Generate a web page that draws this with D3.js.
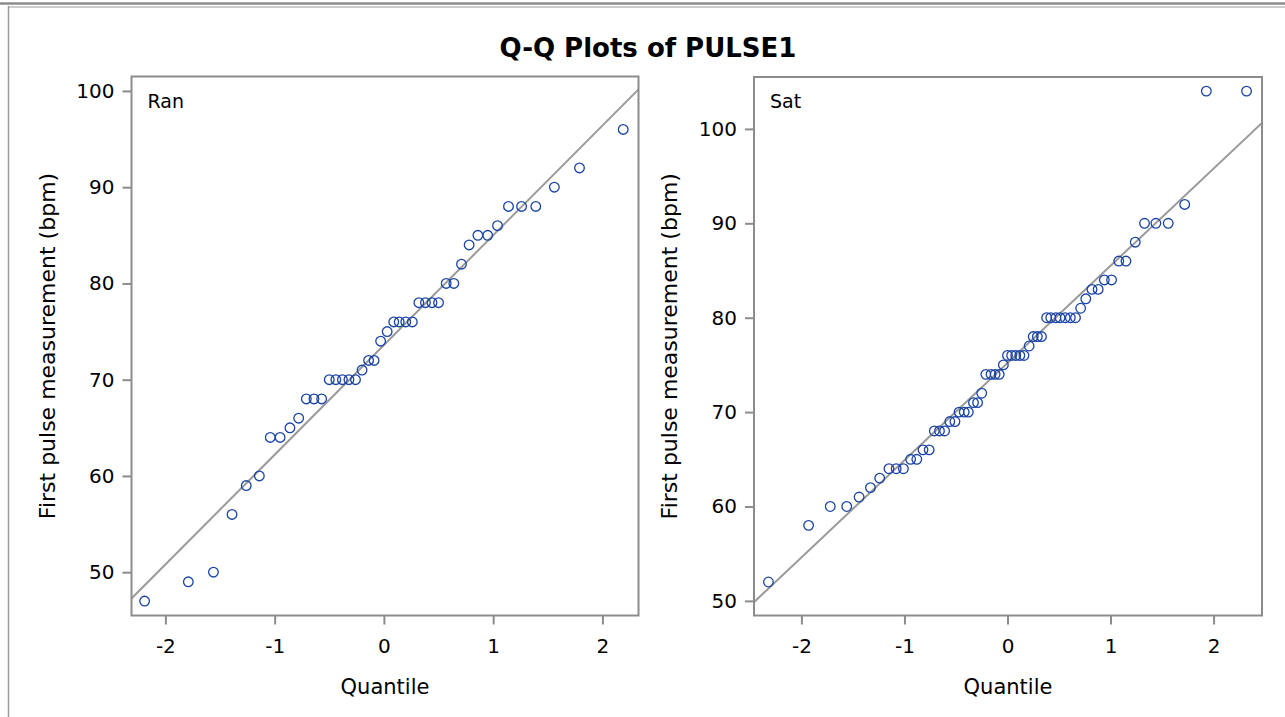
<!DOCTYPE html>
<html>
<head>
<meta charset="utf-8">
<script src="https://cdn.jsdelivr.net/npm/d3@7"></script>
<style>
    body { margin: 0; background: #fff; }
    svg { display: block; font-family: "DejaVu Sans", sans-serif; }
</style>
</head>
<body>
<div id="chart"></div>
<script>
// quantiles and sorted PULSE1 values
var ranQuantile = [-2.19, -1.79, -1.56, -1.39, -1.26, -1.14, -1.04, -0.95, -0.86, -0.78, -0.71,
    -0.64, -0.57, -0.50, -0.44, -0.38, -0.32, -0.26, -0.20, -0.14, -0.09, -0.03,
    0.03, 0.09, 0.14, 0.20, 0.26, 0.32, 0.38, 0.44, 0.50, 0.57, 0.64,
    0.71, 0.78, 0.86, 0.95, 1.04, 1.14, 1.26, 1.39, 1.56, 1.79, 2.19];
var ranPulse = [47, 49, 50, 56, 59, 60, 64, 64, 65, 66, 68, 68, 68, 70, 70, 70, 70, 70, 71, 72, 72, 74,
    75, 76, 76, 76, 76, 78, 78, 78, 78, 80, 80, 82, 84, 85, 85, 86, 88, 88, 88, 90, 92, 96];

var satQuantile = [-2.32, -1.93, -1.72, -1.56, -1.44, -1.33, -1.24, -1.15, -1.08, -1.01, -0.94,
    -0.88, -0.82, -0.76, -0.71, -0.66, -0.61, -0.56, -0.51, -0.47, -0.42, -0.38,
    -0.33, -0.29, -0.25, -0.21, -0.16, -0.12, -0.08, -0.04, 0,
    0.04, 0.08, 0.12, 0.16, 0.21, 0.25, 0.29, 0.33, 0.38, 0.42, 0.47, 0.51,
    0.56, 0.61, 0.66, 0.71, 0.76, 0.82, 0.88, 0.94, 1.01, 1.08, 1.15, 1.24,
    1.33, 1.44, 1.56, 1.72, 1.93, 2.32];
var satPulse = [52, 58, 60, 60, 61, 62, 63, 64, 64, 64, 65, 65, 66, 66, 68, 68, 68, 69, 69, 70, 70, 70,
    71, 71, 72, 74, 74, 74, 74, 75, 76, 76, 76, 76, 76, 77, 78, 78, 78, 80, 80, 80, 80, 80, 80, 80,
    81, 82, 83, 83, 84, 84, 86, 86, 88, 90, 90, 90, 92, 104, 104];

// normal reference line (mean, std dev)
var ranRef = [73.6, 11.4];
var satRef = [75.2, 10.3];

var xTicks = [-2, -1, 0, 1, 2];
var yTicks = [50, 60, 70, 80, 90, 100];

var W = 1285, H = 717;
var axisColor = '#8c8c8c';
var markerColor = '#1a44a6';

var svg = d3.select('#chart').append('svg')
    .attr('width', W)
    .attr('height', H);

// outer page frame
svg.append('line').attr('x1', 0).attr('x2', W).attr('y1', 3.5).attr('y2', 3.5)
    .attr('stroke', '#8c8c8c').attr('stroke-width', 2.5);
svg.append('line').attr('x1', 8).attr('x2', W).attr('y1', 7).attr('y2', 7)
    .attr('stroke', '#bdbdbd').attr('stroke-width', 1.5);
svg.append('line').attr('x1', 8.5).attr('x2', 8.5).attr('y1', 6).attr('y2', H)
    .attr('stroke', '#9a9a9a').attr('stroke-width', 1.5);

svg.append('text')
    .attr('x', 648).attr('y', 57)
    .attr('text-anchor', 'middle')
    .style('font-size', '26px')
    .style('font-weight', 'bold')
    .text('Q-Q Plots of PULSE1');

function drawPanel(opts) {
    var x = d3.scaleLinear().domain(opts.xDomain).range([opts.left, opts.right]);
    var y = d3.scaleLinear().domain(opts.yDomain).range([opts.bottom, opts.top]);
    var w = opts.right - opts.left, h = opts.bottom - opts.top;

    var g = svg.append('g');

    var clipId = 'clip-' + opts.name;
    svg.append('clipPath').attr('id', clipId)
        .append('rect')
        .attr('x', opts.left).attr('y', opts.top)
        .attr('width', w).attr('height', h);

    // reference line
    var lineFn = d3.line()
        .x(function (d) { return x(d); })
        .y(function (d) { return y(opts.ref[0] + opts.ref[1] * d); });
    g.append('path')
        .datum(opts.xDomain)
        .attr('clip-path', 'url(#' + clipId + ')')
        .attr('d', lineFn)
        .attr('fill', 'none')
        .attr('stroke', '#9a9a9a')
        .attr('stroke-width', 2);

    // points
    g.selectAll('circle')
        .data(opts.qs)
        .enter().append('circle')
        .attr('cx', function (d) { return x(d); })
        .attr('cy', function (d, i) { return y(opts.vals[i]); })
        .attr('r', 4.8)
        .attr('fill', 'none')
        .attr('stroke', markerColor)
        .attr('stroke-width', 1.3);

    // axes
    var xAxis = g.append('g')
        .attr('transform', 'translate(0,' + opts.bottom + ')')
        .call(d3.axisBottom(x).tickValues(xTicks).tickSize(9).tickPadding(14));
    var yAxis = g.append('g')
        .attr('transform', 'translate(' + opts.left + ',0)')
        .call(d3.axisLeft(y).tickValues(yTicks).tickSize(9).tickPadding(8));
    [xAxis, yAxis].forEach(function (a) {
        a.select('.domain').remove();
        a.selectAll('line').attr('stroke', axisColor).attr('stroke-width', 2);
        a.selectAll('text')
            .attr('fill', '#000')
            .style('font-family', '"DejaVu Sans", sans-serif')
            .style('font-size', '20px');
    });
    xAxis.selectAll('text').text(function (d) { return d3.format('d')(d).replace('−', '-'); });

    // frame
    g.append('rect')
        .attr('x', opts.left).attr('y', opts.top)
        .attr('width', w).attr('height', h)
        .attr('fill', 'none')
        .attr('stroke', axisColor)
        .attr('stroke-width', 2);

    g.append('text')
        .attr('x', opts.left + 16).attr('y', opts.top + 31)
        .style('font-size', '19px')
        .text(opts.name);

    g.append('text')
        .attr('x', (opts.left + opts.right) / 2).attr('y', 694)
        .attr('text-anchor', 'middle')
        .style('font-size', '21px')
        .text('Quantile');

    g.append('text')
        .attr('transform', 'translate(' + (opts.left - 77) + ',' + (opts.top + opts.bottom) / 2 + ') rotate(-90)')
        .attr('text-anchor', 'middle')
        .style('font-size', '22px')
        .text('First pulse measurement (bpm)');
}

drawPanel({
    name: 'Ran', qs: ranQuantile, vals: ranPulse, ref: ranRef,
    left: 131.5, right: 638.5, top: 76.5, bottom: 615.5,
    xDomain: [-2.31, 2.33], yDomain: [45.5, 101.5]
});

drawPanel({
    name: 'Sat', qs: satQuantile, vals: satPulse, ref: satRef,
    left: 754, right: 1262, top: 77, bottom: 615.5,
    xDomain: [-2.46, 2.47], yDomain: [48.45, 105.5]
});
</script>
</body>
</html>
